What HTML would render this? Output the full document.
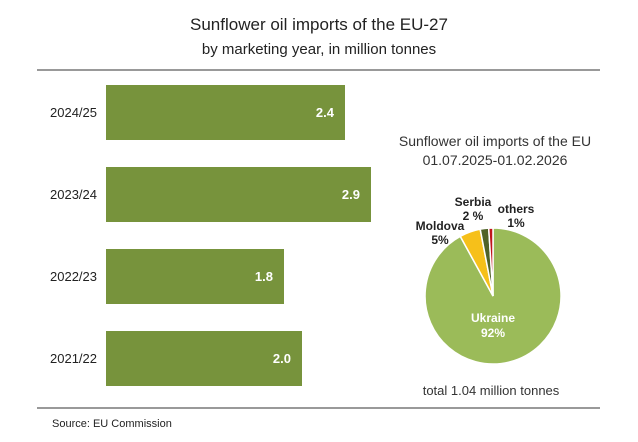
<!DOCTYPE html>
<html><head><style>
body{margin:0;width:638px;height:437px;background:#fff;overflow:hidden;font-family:"Liberation Sans",sans-serif}
</style></head><body>
<svg width="638" height="437" xmlns="http://www.w3.org/2000/svg" font-family="Liberation Sans, sans-serif">
<text x="319" y="30" text-anchor="middle" font-size="17" fill="#222">Sunflower oil imports of the EU-27</text>
<text x="319" y="54" text-anchor="middle" font-size="15" fill="#222">by marketing year, in million tonnes</text>
<line x1="37" y1="70" x2="600" y2="70" stroke="#333" stroke-width="1"/>
<line x1="37" y1="408" x2="600" y2="408" stroke="#333" stroke-width="1"/>
<g fill="#77933c">
<rect x="106" y="85" width="239" height="55"/>
<rect x="106" y="167" width="265" height="55"/>
<rect x="106" y="249" width="178" height="55"/>
<rect x="106" y="331" width="196" height="55"/>
</g>
<g font-size="13" fill="#222">
<text x="50" y="117">2024/25</text>
<text x="50" y="199">2023/24</text>
<text x="50" y="281">2022/23</text>
<text x="50" y="363">2021/22</text>
</g>
<g font-size="13" fill="#fff" font-weight="bold" text-anchor="end">
<text x="334" y="117">2.4</text>
<text x="360" y="199">2.9</text>
<text x="273" y="281">1.8</text>
<text x="291" y="363">2.0</text>
</g>
<text x="495" y="146" text-anchor="middle" font-size="14" fill="#333">Sunflower oil imports of the EU</text>
<text x="495" y="165" text-anchor="middle" font-size="14" fill="#333">01.07.2025-01.02.2026</text>
<g transform="translate(493,296)" stroke="#fff" stroke-width="1.5">
<path d="M0,0 L0,-68 A68,68 0 1 1 -32.7,-59.6 Z" fill="#9bbb59"/>
<path d="M0,0 L-32.7,-59.6 A68,68 0 0 1 -12.8,-66.8 Z" fill="#f6c01a"/>
<path d="M0,0 L-12.8,-66.8 A68,68 0 0 1 -4.3,-67.9 Z" fill="#4f6228"/>
<path d="M0,0 L-4.3,-67.9 A68,68 0 0 1 0,-68 Z" fill="#c0141b"/>
</g>
<g font-size="12" font-weight="bold" fill="#222" text-anchor="middle">
<text x="473" y="206">Serbia</text><text x="473" y="220">2 %</text>
<text x="516" y="213">others</text><text x="516" y="227">1%</text>
<text x="440" y="230">Moldova</text><text x="440" y="244">5%</text>
<text x="493" y="322" fill="#fff">Ukraine</text><text x="493" y="337" fill="#fff">92%</text>
</g>
<text x="491" y="395" text-anchor="middle" font-size="13" fill="#333">total 1.04 million tonnes</text>
<text x="52" y="427" font-size="11" fill="#222">Source:  EU Commission</text>
</svg>
</body></html>
